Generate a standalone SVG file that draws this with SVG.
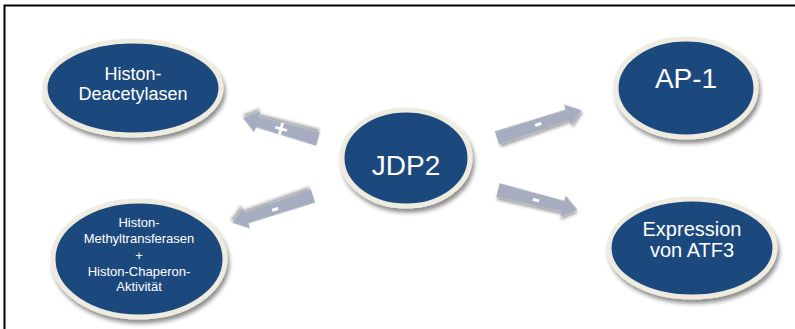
<svg xmlns="http://www.w3.org/2000/svg" width="795" height="329" viewBox="0 0 795 329">
  <defs>
    <filter id="shadow" x="-20%" y="-20%" width="140%" height="150%">
      <feGaussianBlur in="SourceAlpha" stdDeviation="2.2"/>
      <feOffset dx="1.5" dy="3.5" result="blur"/>
      <feComponentTransfer><feFuncA type="linear" slope="0.45"/></feComponentTransfer>
      <feMerge><feMergeNode/><feMergeNode in="SourceGraphic"/></feMerge>
    </filter>
    <filter id="arrowShadow" x="-20%" y="-50%" width="140%" height="200%">
      <feGaussianBlur in="SourceAlpha" stdDeviation="1.5"/>
      <feOffset dx="1" dy="2.5" result="blur"/>
      <feComponentTransfer><feFuncA type="linear" slope="0.35"/></feComponentTransfer>
      <feMerge><feMergeNode/><feMergeNode in="SourceGraphic"/></feMerge>
    </filter>
  </defs>
  <style>
    .node ellipse { fill: #1f497d; stroke: #eeece1; stroke-width: 5; filter: url(#shadow); }
    .node text { fill: #ffffff; font-family: "Liberation Sans", Arial, sans-serif; text-anchor: middle; }
    .arrow { fill: #a7adc1; filter: url(#arrowShadow); }
    .sign { fill: #ffffff; font-family: "Liberation Sans", Arial, sans-serif; font-weight: bold; font-size: 24px; text-anchor: middle; }
  </style>

  <rect width="795" height="329" fill="#ffffff"/>
  <!-- frame: top and left edges -->
  <path d="M4.5,329 V5.5 H795" fill="none" stroke="#000000" stroke-width="2"/>

  <g id="connectors">
    <!-- JDP2 to Histon-Deacetylasen (+) -->
    <g transform="translate(318,139) rotate(195.6)">
      <path class="arrow" d="M0,-7 L63,-5.5 V-11 L78,0 L63,11 V5.5 L0,7 Z"/>
    </g>
    <text class="sign" transform="translate(281,129) rotate(15.6)" y="8">+</text>

    <!-- JDP2 to Methyltransferasen (-) -->
    <g transform="translate(313,196) rotate(161.6)">
      <path class="arrow" d="M0,-7 L70,-5.5 V-11 L85,0 L70,11 V5.5 L0,7 Z"/>
    </g>
    <text class="sign" transform="translate(275,209) rotate(-18.4)" y="6.5">-</text>

    <!-- JDP2 to AP-1 (-) -->
    <g transform="translate(497,138) rotate(-18.2)">
      <path class="arrow" d="M0,-7 L74,-5.5 V-11 L89,0 L74,11 V5.5 L0,7 Z"/>
    </g>
    <text class="sign" transform="translate(538,124) rotate(-18.2)" y="6.5">-</text>

    <!-- JDP2 to Expression von ATF3 (-) -->
    <g transform="translate(498,190) rotate(14)">
      <path class="arrow" d="M0,-7 L67,-5.5 V-11 L82,0 L67,11 V5.5 L0,7 Z"/>
    </g>
    <text class="sign" transform="translate(536,200) rotate(14)" y="6.5">-</text>
  </g>

  <g id="hdac" class="node">
    <ellipse cx="133" cy="88" rx="88" ry="47"/>
    <text font-size="18" x="133" y="80">Histon-</text>
    <text font-size="18" x="133" y="100">Deacetylasen</text>
  </g>

  <g id="hmt" class="node">
    <ellipse cx="139" cy="259" rx="86" ry="58"/>
    <text font-size="13" x="139" y="227">Histon-</text>
    <text font-size="13" x="139" y="243">Methyltransferasen</text>
    <text font-size="13" x="139" y="260">+</text>
    <text font-size="13" x="139" y="276">Histon-Chaperon-</text>
    <text font-size="13" x="139" y="291">Aktivität</text>
  </g>

  <g id="jdp2" class="node">
    <ellipse cx="406" cy="158" rx="64" ry="48"/>
    <text font-size="28" x="406" y="175">JDP2</text>
  </g>

  <g id="ap1" class="node">
    <ellipse cx="686" cy="88" rx="70" ry="49"/>
    <text font-size="28" x="686" y="88">AP-1</text>
  </g>

  <g id="atf3" class="node">
    <ellipse cx="692" cy="248" rx="83" ry="49"/>
    <text font-size="20" x="692" y="236">Expression</text>
    <text font-size="20" x="692" y="257">von ATF3</text>
  </g>
</svg>
